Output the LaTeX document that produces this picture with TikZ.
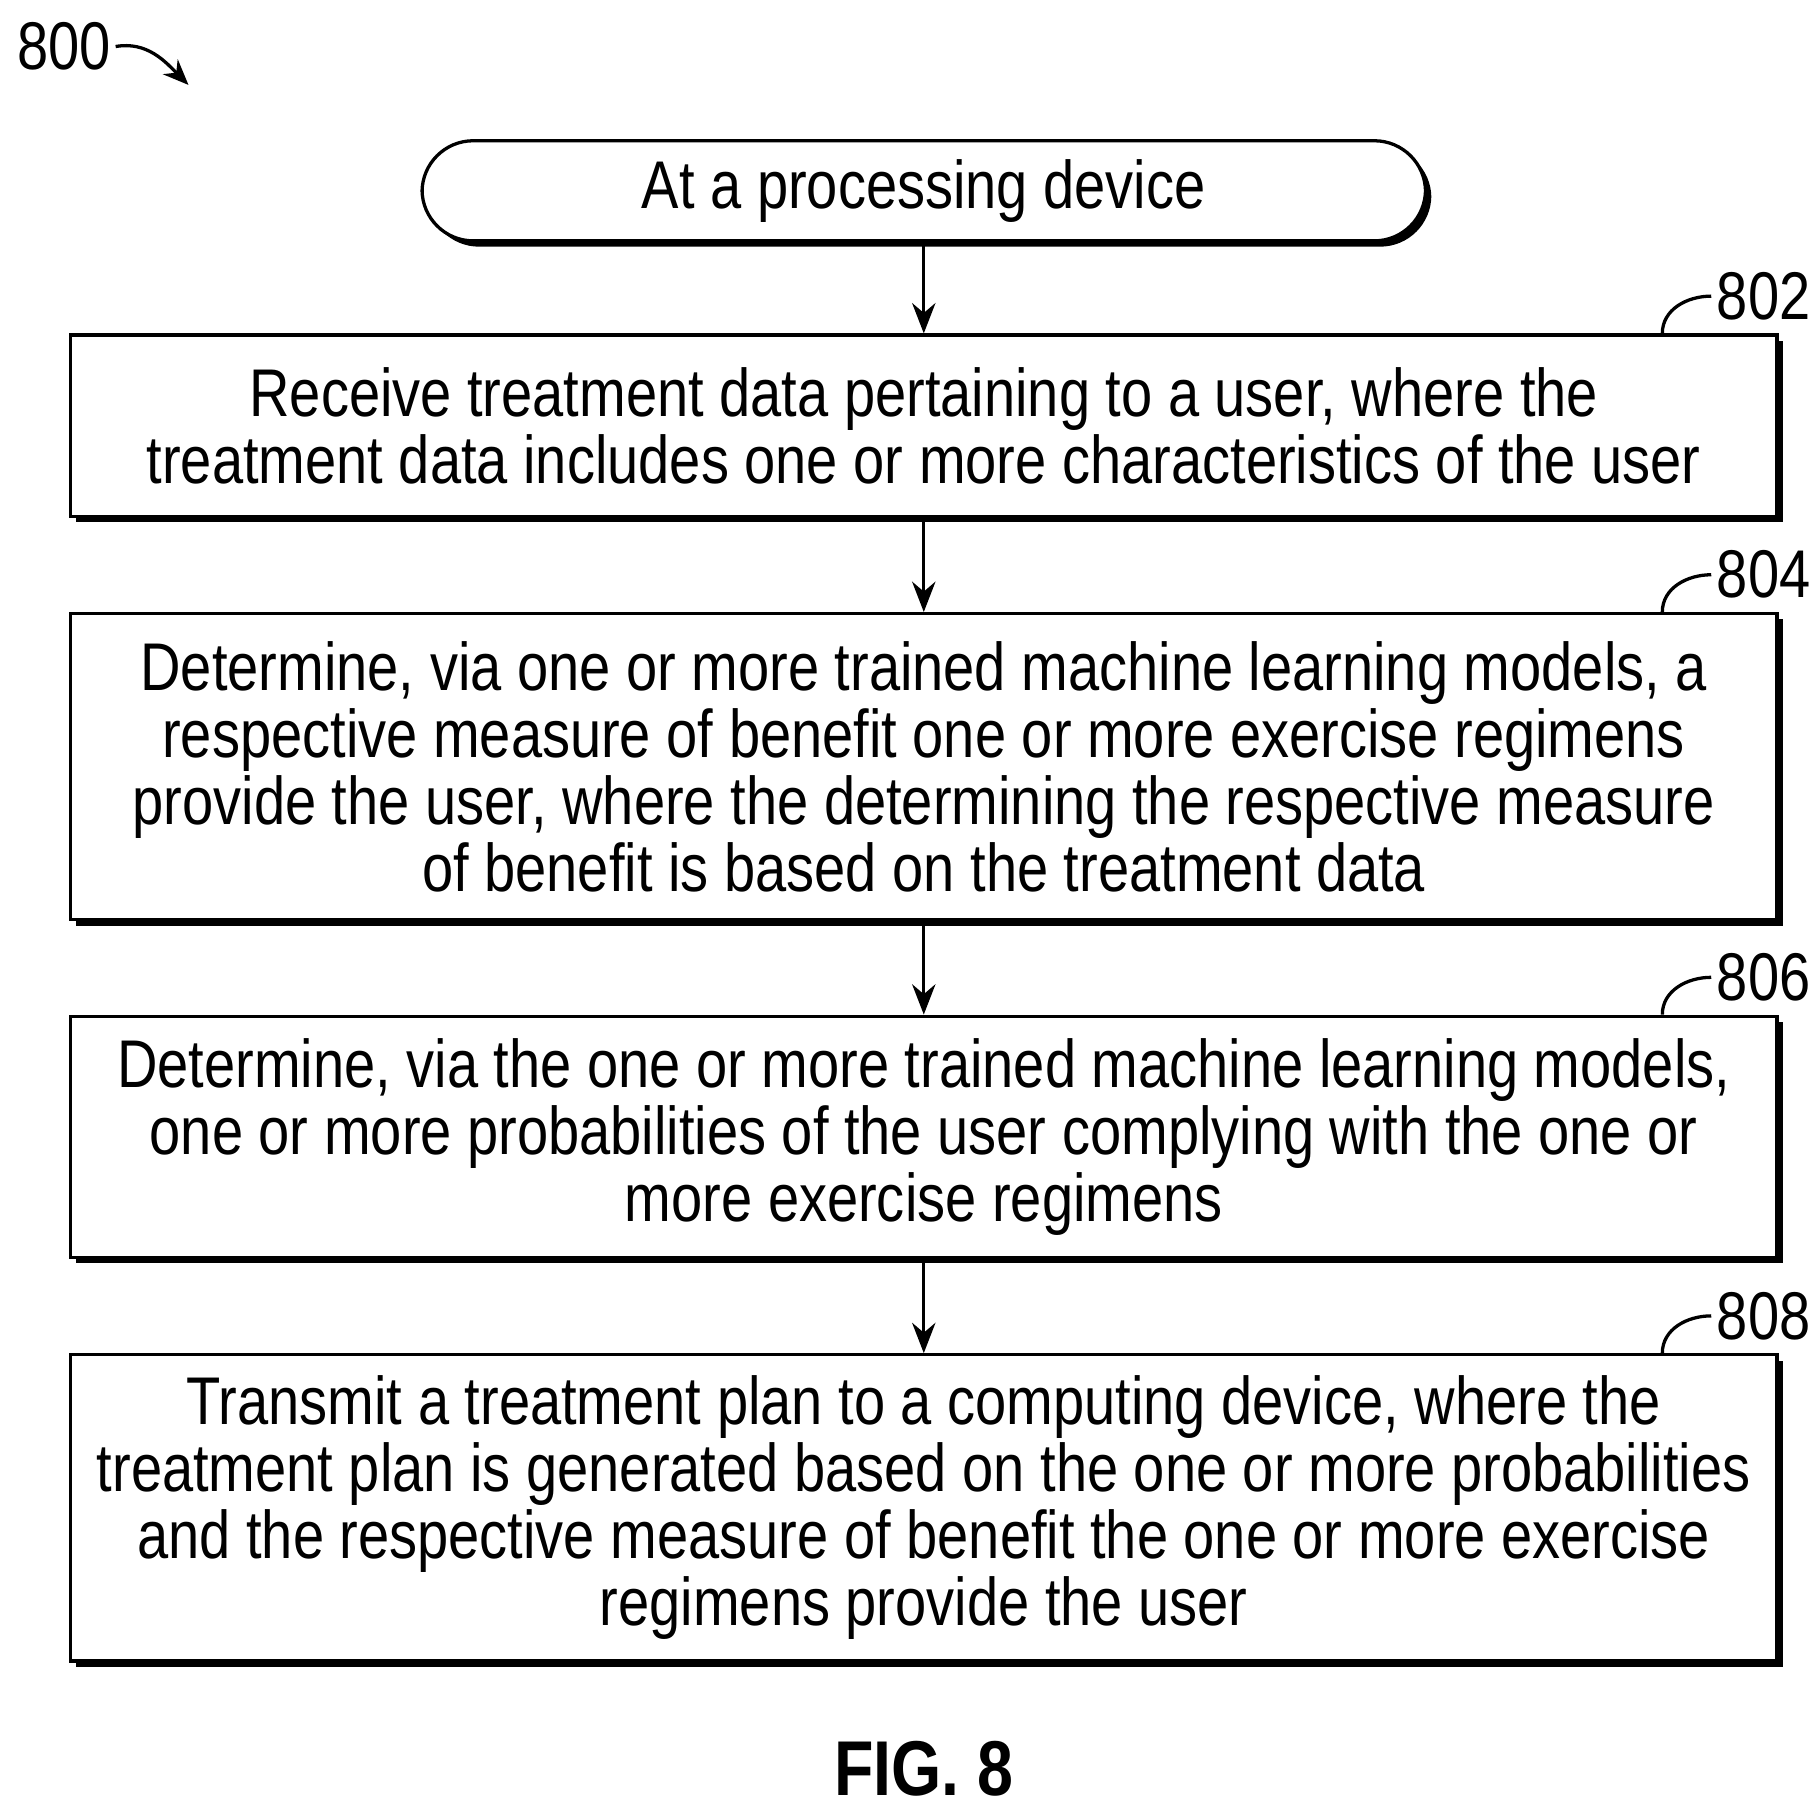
\documentclass[tikz,border=0pt]{standalone}
\usepackage{fontspec}
\setmainfont{Liberation Sans}[FakeStretch=0.83]
\usetikzlibrary{shadows,arrows.meta}
\tikzset{
  stepBox/.style = {draw, thick, fill=white, align=center, minimum width=14.66cm,
    font=\fontsize{16.5}{16.4}\selectfont,
    drop shadow={opacity=1, fill=black, shadow xshift=0.05cm, shadow yshift=-0.05cm}},
  stepLabel/.style = {font=\fontsize{16.5}{18}\selectfont, anchor=west, inner sep=1pt},
  flowArrow/.style = {-{Stealth[length=2.6mm,width=2mm]}, thick}
}
\newcommand{\stepTag}[2]{
  \draw [thick] ([xshift=-1cm]#1.north east) to[out=90, in=180] ++(0.42cm,0.32cm) node [stepLabel] {#2};
}
\begin{document}
\begin{tikzpicture}[x=0.01cm, y=-0.01cm]
  \useasboundingbox (0,0) rectangle (1560,1558);
  % figure number
  \node [stepLabel, anchor=center] (figNo) at (55,40) {800};
  \coordinate (figTip) at (162,73);
  \draw [-{Stealth[length=2.2mm,width=1.8mm]}, thick] (figNo.east) to[out=10, in=135] (figTip);
  % start
  \node [draw, thick, fill=white, rounded corners=0.44cm, minimum width=8.62cm,
    minimum height=0.86cm, font=\fontsize{16.5}{18}\selectfont,
    drop shadow={opacity=1, fill=black, shadow xshift=0.05cm, shadow yshift=-0.05cm}]
    (start) at (794,164) {At a processing device};
  % steps
  \node [stepBox, minimum height=1.56cm] (receive) at (794,366)
    {Receive treatment data pertaining to a user, where the\\
     treatment data includes one or more characteristics of the user};
  \node [stepBox, minimum height=2.63cm] (benefit) at (794,659)
    {Determine, via one or more trained machine learning models, a\\
     respective measure of benefit one or more exercise regimens\\
     provide the user, where the determining the respective measure\\
     of benefit is based on the treatment data};
  \node [stepBox, minimum height=2.07cm] (comply) at (794,977)
    {Determine, via the one or more trained machine learning models,\\
     one or more probabilities of the user complying with the one or\\
     more exercise regimens};
  \node [stepBox, minimum height=2.63cm] (transmit) at (794,1296)
    {Transmit a treatment plan to a computing device, where the\\
     treatment plan is generated based on the one or more probabilities\\
     and the respective measure of benefit the one or more exercise\\
     regimens provide the user};
  \stepTag{receive}{802}
  \stepTag{benefit}{804}
  \stepTag{comply}{806}
  \stepTag{transmit}{808}
  \draw [flowArrow] (start) -- (receive);
  \draw [flowArrow] (receive) -- (benefit);
  \draw [flowArrow] (benefit) -- (comply);
  \draw [flowArrow] (comply) -- (transmit);
  \node [font=\bfseries\fontsize{19}{21}\selectfont] (caption) at (794,1520) {FIG. 8};
\end{tikzpicture}
\end{document}
